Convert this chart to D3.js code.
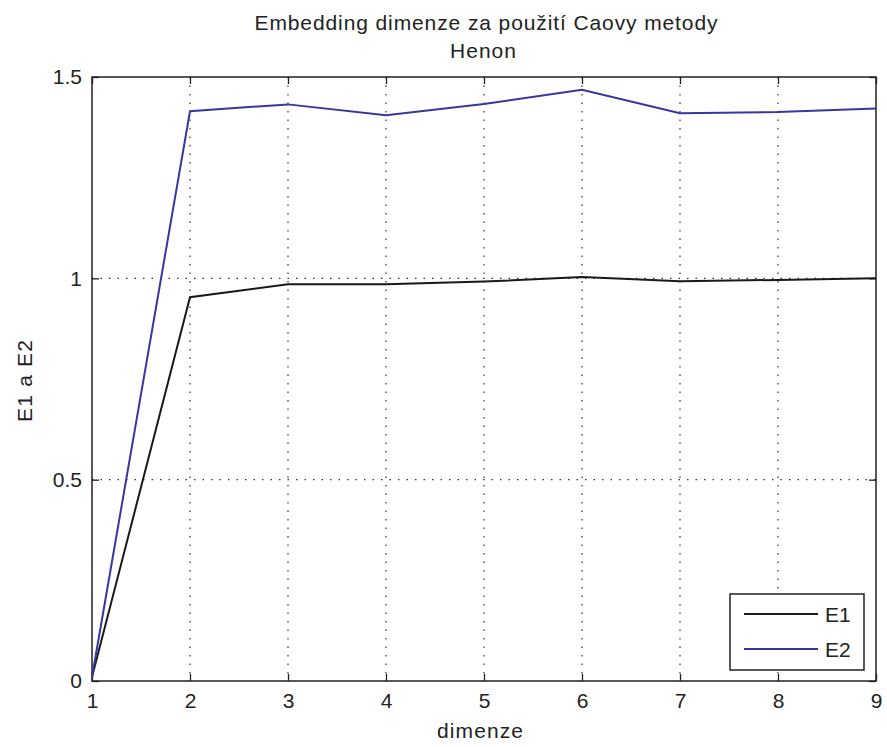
<!DOCTYPE html>
<html>
<head>
<meta charset="utf-8">
<script src="https://cdn.jsdelivr.net/npm/d3@7"></script>
<style>
  body { margin: 0; background: #fff; }
  text { font-family: "Liberation Sans", Arial, sans-serif; fill: #222; }
</style>
</head>
<body>
<svg id="chart" width="887" height="747"></svg>
<script>
const dims = [1, 2, 3, 4, 5, 6, 7, 8, 9];
const e1 = [0.01, 0.953, 0.985, 0.985, 0.992, 1.003, 0.993, 0.996, 1.0];
const e2 = [0.01, 1.415, 1.432, 1.405, 1.433, 1.468, 1.41, 1.413, 1.422];
const xTicks = [1, 2, 3, 4, 5, 6, 7, 8, 9];
const yTicks = [0, 0.5, 1, 1.5];
const seriesNames = ['E1', 'E2'];
const seriesColors = ['#1a1a1a', '#3a35a0'];

const svg = d3.select('#chart');
const plotL = 92, plotR = 876, plotT = 77, plotB = 681;

const x = d3.scaleLinear().domain([1, 9]).range([plotL, plotR]);
const y = d3.scaleLinear().domain([0, 1.5]).range([plotB, plotT]);

// grid
const grid = svg.append('g').attr('stroke', '#333').attr('stroke-width', 1.2)
  .attr('stroke-dasharray', '1.5,7');
xTicks.slice(1, -1).forEach(t => {
  grid.append('line').attr('x1', x(t)).attr('x2', x(t)).attr('y1', plotT).attr('y2', plotB);
});
yTicks.slice(1, -1).forEach(t => {
  grid.append('line').attr('x1', plotL).attr('x2', plotR).attr('y1', y(t)).attr('y2', y(t));
});

// axes, ticks point inward like matlab
const axisStyle = g => {
  g.select('.domain').remove();
  g.selectAll('line').attr('stroke', '#222').attr('stroke-width', 1.3);
  g.selectAll('text').style('font-size', '21px').attr('fill', '#222');
};
svg.append('g').attr('transform', `translate(0,${plotB})`)
  .call(d3.axisBottom(x).tickValues(xTicks).tickSizeInner(-7).tickSizeOuter(0).tickPadding(12).tickFormat(d3.format('d')))
  .call(axisStyle);
svg.append('g').attr('transform', `translate(0,${plotT})`)
  .call(d3.axisTop(x).tickValues(xTicks).tickSizeInner(-7).tickSizeOuter(0).tickFormat(''))
  .call(axisStyle);
svg.append('g').attr('transform', `translate(${plotL},0)`)
  .call(d3.axisLeft(y).tickValues(yTicks).tickSizeInner(-7).tickSizeOuter(0).tickPadding(10).tickFormat(d => String(d)))
  .call(axisStyle);
svg.append('g').attr('transform', `translate(${plotR},0)`)
  .call(d3.axisRight(y).tickValues(yTicks).tickSizeInner(-7).tickSizeOuter(0).tickFormat(''))
  .call(axisStyle);

svg.append('rect').attr('x', plotL).attr('y', plotT).attr('width', plotR - plotL).attr('height', plotB - plotT)
  .attr('fill', 'none').attr('stroke', '#222').attr('stroke-width', 1.5);

// lines
const line = d3.line().x((d, i) => x(dims[i])).y(d => y(d));
[e1, e2].forEach((s, i) => {
  svg.append('path').datum(s).attr('d', line).attr('fill', 'none')
    .attr('stroke', seriesColors[i]).attr('stroke-width', 2);
});

// titles
svg.append('text').attr('x', 486).attr('y', 30).attr('text-anchor', 'middle')
  .attr('textLength', 463).attr('lengthAdjust', 'spacing')
  .style('font-size', '21px').text('Embedding dimenze za použití Caovy metody');
svg.append('text').attr('x', 483).attr('y', 58).attr('text-anchor', 'middle')
  .attr('textLength', 66).attr('lengthAdjust', 'spacing')
  .style('font-size', '21px').text('Henon');
svg.append('text').attr('x', 480).attr('y', 738).attr('text-anchor', 'middle')
  .attr('textLength', 86).attr('lengthAdjust', 'spacing')
  .style('font-size', '21px').text('dimenze');
svg.append('text').attr('transform', 'translate(32,381) rotate(-90)').attr('text-anchor', 'middle')
  .attr('textLength', 82).attr('lengthAdjust', 'spacing')
  .style('font-size', '21px').text('E1 a E2');

// legend
const lg = svg.append('g');
lg.append('rect').attr('x', 730).attr('y', 594).attr('width', 134).attr('height', 76)
  .attr('fill', '#fff').attr('stroke', '#222').attr('stroke-width', 1.5);
seriesNames.forEach((n, i) => {
  const yy = 614 + i * 35;
  lg.append('line').attr('x1', 744).attr('x2', 818).attr('y1', yy).attr('y2', yy)
    .attr('stroke', seriesColors[i]).attr('stroke-width', 2);
  lg.append('text').attr('x', 825).attr('y', yy + 8).style('font-size', '21px').text(n);
});
</script>
</body>
</html>
